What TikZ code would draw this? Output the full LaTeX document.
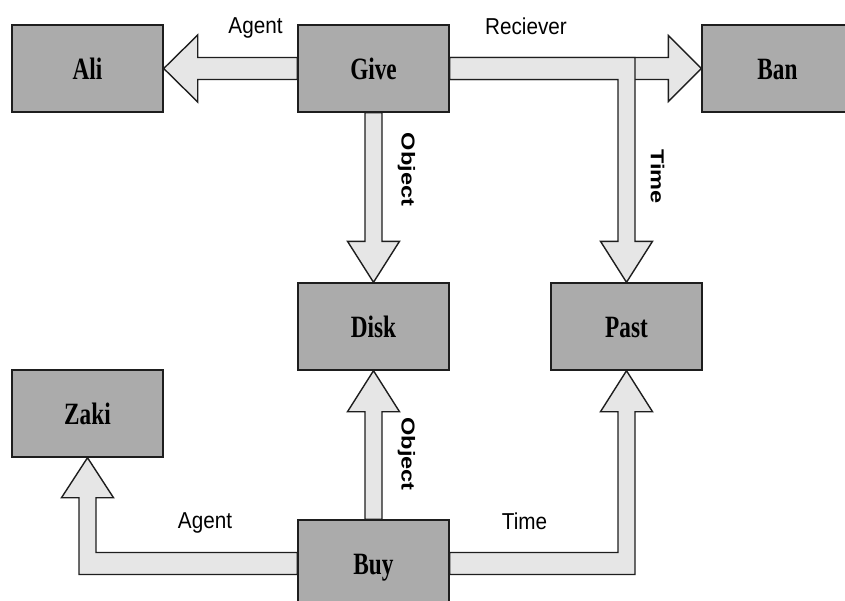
\documentclass[tikz,border=0pt]{standalone}
\usepackage{fontspec}
\setmainfont{Liberation Serif}
\newfontfamily\lblfont{Liberation Sans}
\usetikzlibrary{calc,backgrounds}
\definecolor{boxgray}{HTML}{ABABAB}
\definecolor{arrfill}{HTML}{E6E6E6}
\definecolor{edgecol}{HTML}{1E1E1E}
\tikzset{
  box/.style={draw=edgecol, fill=boxgray, line width=1.4pt, minimum width=151pt, minimum height=87pt,
    inner sep=0pt, text height=21pt, text depth=0pt, font=\fontsize{31}{36}\selectfont\bfseries},
  arr/.style={draw=edgecol, fill=arrfill, line width=1.4pt, line join=miter},
  lbl/.style={inner sep=0pt, anchor=base, font=\lblfont\fontsize{23}{27}\selectfont},
  vlbl/.style={inner sep=0pt, rotate=-90, font=\lblfont\fontsize{22}{26}\selectfont\bfseries}
}
\newcommand{\bx}[1]{\scalebox{0.75}[1]{#1}}
\newcommand{\hl}[1]{\scalebox{0.9}[1]{#1}}
\newcommand{\vl}[1]{\scalebox{1.07}[0.85]{#1}}
\begin{document}
\begin{tikzpicture}[x=1pt,y=-1pt]
\useasboundingbox (0,0) rectangle (845,600);
\clip (0,0) rectangle (845,600);
% boxes
\node[box] (ali)  at (87.5,68.5)   {\bx{Ali}};
\node[box] (give) at (373.5,68.5)  {\bx{Give}};
\node[box] (ban)  at (777.5,68.5)  {\bx{Ban}};
\node[box] (disk) at (373.5,326.5) {\bx{Disk}};
\node[box] (past) at (626.5,326.5) {\bx{Past}};
\node[box] (zaki) at (87.5,413.5)  {\bx{Zaki}};
\node[box] (buy)  at (373.5,563.5) {\bx{Buy}};
% arrows
\begin{pgfonlayer}{background}
% Give -> Ali
\draw[arr] ($(give.west)+(0,-11)$) -- ($(ali.east)+(34,-11)$) -- ($(ali.east)+(34,-33.5)$) -- (ali.east)
  -- ($(ali.east)+(34,33.5)$) -- ($(ali.east)+(34,11)$) -- ($(give.west)+(0,11)$) -- cycle;
% Give -> Ban
\draw[arr] ($(give.east)+(0,-11)$) -- ($(ban.west)+(-33,-11)$) -- ($(ban.west)+(-33,-33)$) -- (ban.west)
  -- ($(ban.west)+(-33,33)$) -- ($(ban.west)+(-33,11)$) -- ($(give.east)+(0,11)$) -- cycle;
% Give -> Past (elbow)
\draw[arr] ($(give.east)+(0,-11)$) -| ($(past.north)+(8.5,-41)$) -- ($(past.north)+(26,-41)$) -- (past.north)
  -- ($(past.north)+(-26,-41)$) -- ($(past.north)+(-8.5,-41)$) |- ($(give.east)+(0,11)$) -- cycle;
% Give -> Disk
\draw[arr] ($(give.south)+(8.5,0)$) -- ($(disk.north)+(8.5,-41)$) -- ($(disk.north)+(26,-41)$) -- (disk.north)
  -- ($(disk.north)+(-26,-41)$) -- ($(disk.north)+(-8.5,-41)$) -- ($(give.south)+(-8.5,0)$) -- cycle;
% Buy -> Disk
\draw[arr] ($(buy.north)+(8.5,0)$) -- ($(disk.south)+(8.5,41)$) -- ($(disk.south)+(26,41)$) -- (disk.south)
  -- ($(disk.south)+(-26,41)$) -- ($(disk.south)+(-8.5,41)$) -- ($(buy.north)+(-8.5,0)$) -- cycle;
% Buy -> Past (elbow)
\draw[arr] ($(buy.east)+(0,11)$) -| ($(past.south)+(8.5,41)$) -- ($(past.south)+(26,41)$) -- (past.south)
  -- ($(past.south)+(-26,41)$) -- ($(past.south)+(-8.5,41)$) |- ($(buy.east)+(0,-11)$) -- cycle;
% Buy -> Zaki (elbow)
\draw[arr] ($(buy.west)+(0,11)$) -| ($(zaki.south)+(-8.5,40)$) -- ($(zaki.south)+(-26,40)$) -- (zaki.south)
  -- ($(zaki.south)+(26,40)$) -- ($(zaki.south)+(8.5,40)$) |- ($(buy.west)+(0,-11)$) -- cycle;
\end{pgfonlayer}
% labels
\node[lbl] (lagent1) at (255.5,33) {\hl{Agent}};
\node[lbl] (lrec)    at (526,34)   {\hl{Reciever}};
\node[lbl] (lagent2) at (205,528)  {\hl{Agent}};
\node[lbl] (ltime2)  at (524.5,529) {\hl{Time}};
\node[vlbl] (lobj1)  at (406.5,169.5) {\vl{Object}};
\node[vlbl] (lobj2)  at (406.5,454)   {\vl{Object}};
\node[vlbl] (ltime1) at (657.5,176.5) {\vl{Time}};
\end{tikzpicture}
\end{document}
